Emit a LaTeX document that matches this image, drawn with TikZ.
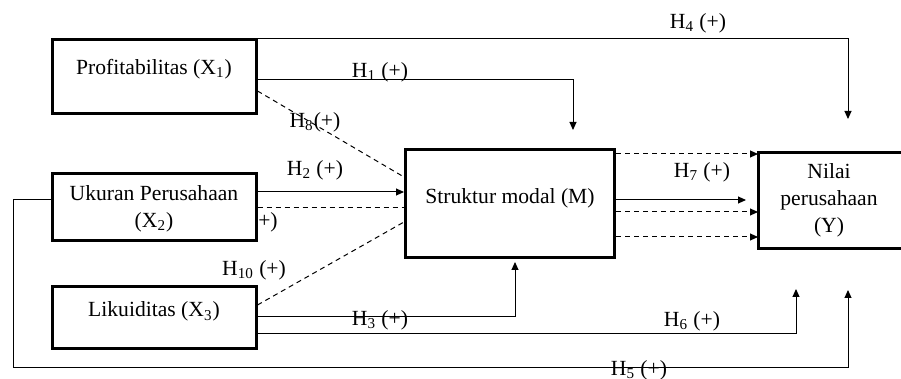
\documentclass[tikz,border=0pt]{standalone}
\usepackage{fontspec}
\setmainfont{Liberation Serif}
\usetikzlibrary{arrows.meta,positioning,calc}

\begin{document}
\begin{tikzpicture}[x=0.5pt, y=-0.5pt, font=\fontsize{10.8}{13.5}\selectfont, >={Triangle[length=4pt,width=3.5pt]},
  var/.style={draw, line width=1.5pt, inner sep=2pt, align=center},
  link/.style={line width=0.5pt},
  arr/.style={link, ->},
  dsh/.style={link, dash pattern=on 2.5pt off 2pt},
  hyp/.style={inner sep=1pt}]
  \useasboundingbox (0,0) rectangle (901,379);
  \coordinate (pgedge) at (901,0);
  % ---------- variables ----------
  \node[var, minimum width=102pt, minimum height=37pt, text depth=10pt] (x1) at (154,77) {Profitabilitas (X\textsubscript{1})};
  \node[var, minimum width=102pt, minimum height=33.5pt, text depth=1pt] (x2) at (154,207.5) {Ukuran Perusahaan\\(X\textsubscript{2})};
  \node[var, minimum width=102pt, minimum height=31pt, text depth=8.5pt] (x3) at (154,318) {Likuiditas (X\textsubscript{3})};
  \node[var, minimum width=104.5pt, minimum height=54pt, text depth=7pt] (m) at (510,203.5) {Struktur modal (M)};
  % the right side of Y runs off the page
  \node[var, draw=none, outer sep=0pt, minimum width=90pt, minimum height=48pt] (y) at (848,200.5)
    {\begin{tabular}{@{}c@{}}Nilai\\perusahaan\\(Y)\end{tabular}\hspace*{19pt}};
  \draw[line width=1.5pt] (y.north west -| pgedge) -- (y.north west) -- (y.south west) -- (y.south west -| pgedge);
  % ---------- hypotheses ----------
  \node[hyp] (lh1) at (380,72) {H\textsubscript{1} (+)};
  \node[hyp] (lh2) at (315,170) {H\textsubscript{2} (+)};
  \node[hyp] (lh3) at (380,320) {H\textsubscript{3} (+)};
  \node[hyp] (lh4) at (698,23) {H\textsubscript{4} (+)};
  \node[hyp] (lh5) at (639,370) {H\textsubscript{5} (+)};
  \node[hyp] (lh6) at (692,321) {H\textsubscript{6} (+)};
  \node[hyp] (lh7) at (702,172) {H\textsubscript{7} (+)};
  \node[hyp] (lh8) at (315,122) {H\textsubscript{8}(+)};
  \node[hyp] (lh9) at (268,222) {+)};
  \node[hyp] (lh10) at (254,270) {H\textsubscript{10} (+)};
  % ---------- direct effects ----------
  \coordinate (h4end) at (848,119);
  \coordinate (h1end) at (573,130);
  \coordinate (h6end) at (796,289);
  \coordinate (h5turn) at (13,367.5);
  \coordinate (h5end) at (848,290);
  \draw[arr] (x1.north east) -| (h4end);
  \draw[arr] ([yshift=-1.5pt]x1.east) -| (h1end);
  \draw[arr] ([yshift=7.75pt]x2.east) -- ([yshift=7.75pt]x2.east -| m.west);
  \draw[arr, shorten >=1.5pt] ([yshift=0.5pt]x3.east) -| ([xshift=2.5pt]m.south);
  \draw[arr] ([yshift=-8pt]x3.east) -| (h6end);
  \draw[arr] ([yshift=3.75pt]x2.west) -| (h5turn) -| (h5end);
  \draw[arr, shorten >=6pt] ([yshift=1.75pt]m.east) -- ([yshift=1.75pt]m.east -| y.west);
  % ---------- mediated effects ----------
  \draw[dsh] ([yshift=-7pt]x1.east) -- ([yshift=13.25pt]m.west);
  \draw[dsh] (x2.east) -- (x2.east -| m.west);
  \draw[dsh] ([yshift=6.5pt]x3.east) -- ([yshift=-9.25pt]m.west);
  \foreach \s in {24.75,-4.25,-16.75}
    \draw[dsh, ->] ([yshift=\s pt]m.east) -- ([yshift=\s pt]m.east -| y.west);
\end{tikzpicture}
\end{document}
